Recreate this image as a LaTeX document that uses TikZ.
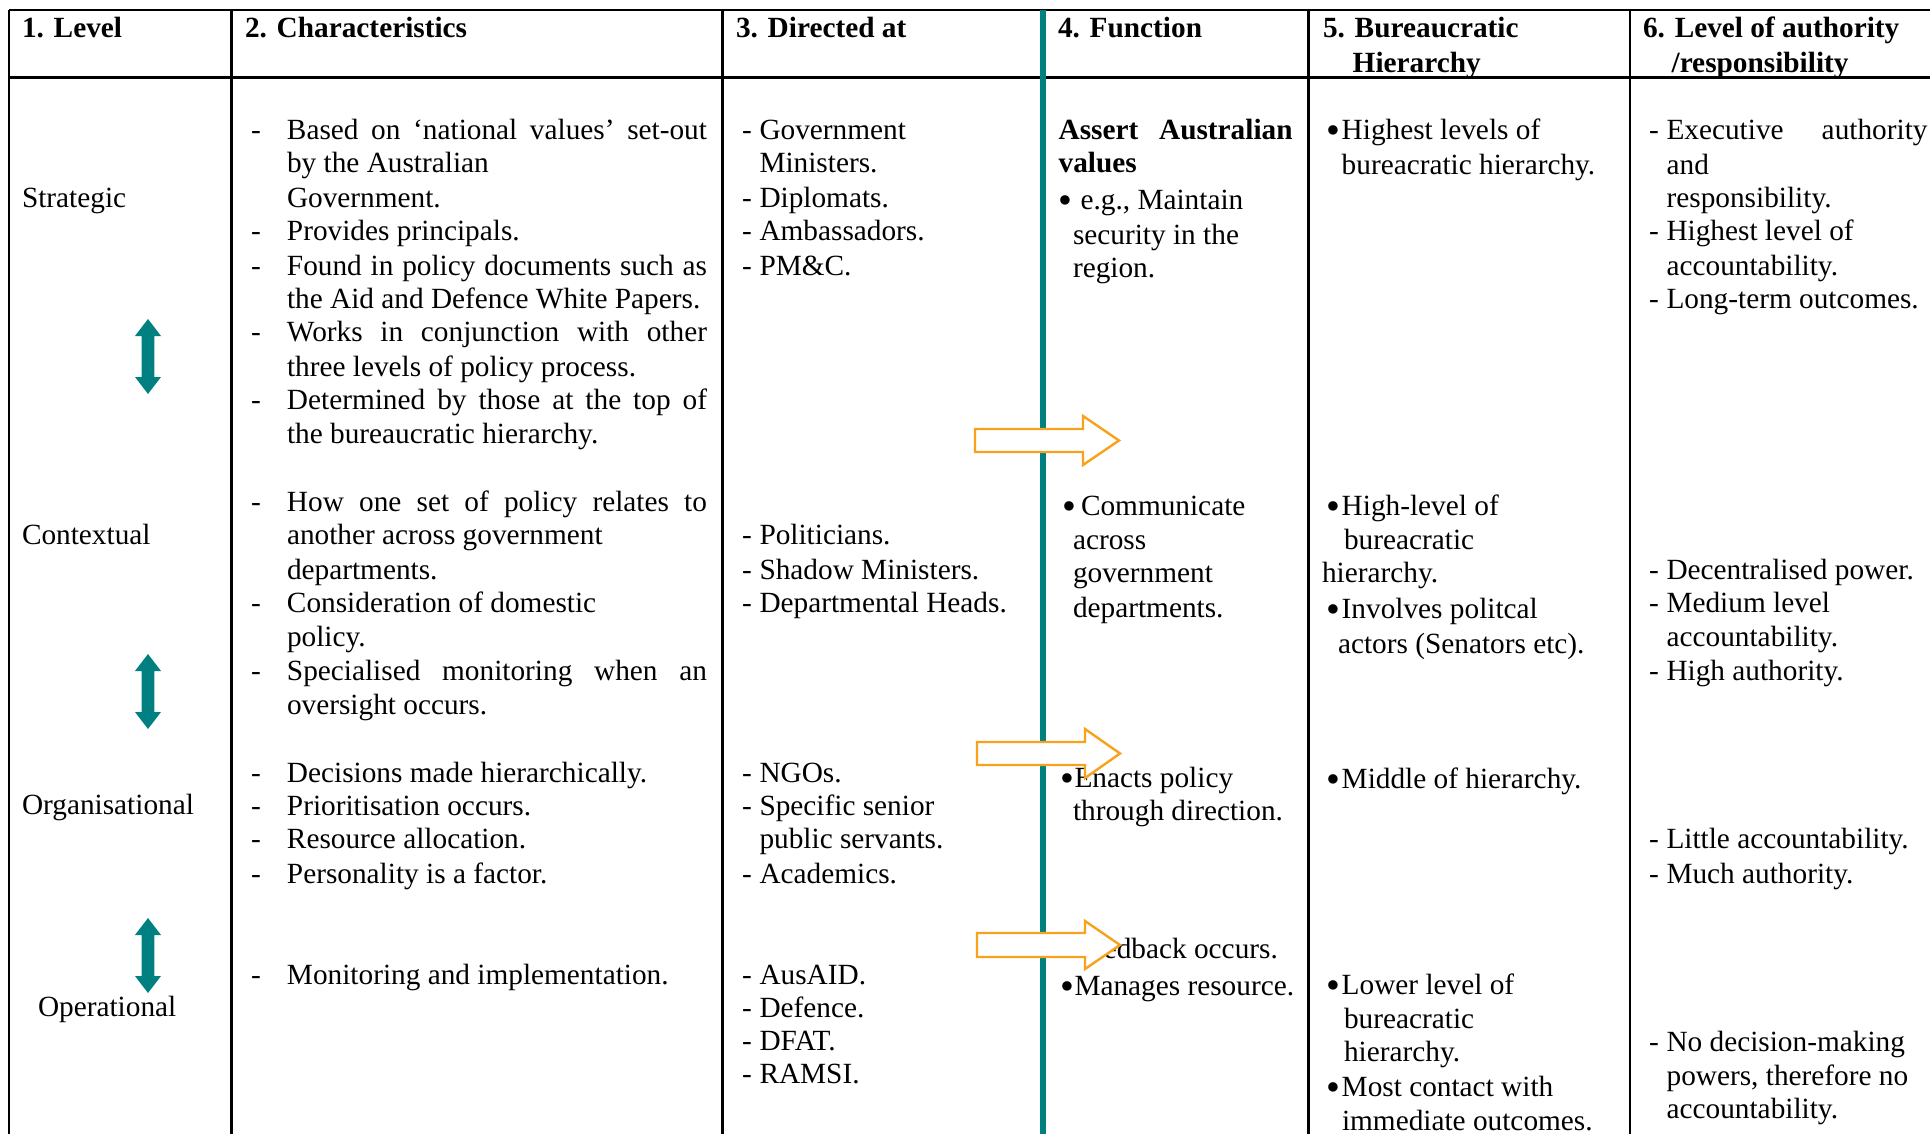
\documentclass[tikz,border=0pt]{standalone}
\usepackage{fontspec}
\usepackage{graphicx}
\setmainfont{Liberation Serif}
\definecolor{tealc}{RGB}{0,128,128}
\definecolor{orangec}{RGB}{248,162,28}
\newcommand\DshA{\makebox[36pt][l]{-}}
\newcommand\DshB{\makebox[17.5pt][l]{-}}
\newcommand\Blt[1]{\makebox[#1][l]{\raisebox{-4pt}{\scalebox{1.35}{•}}}}
\newcommand\Jst[2]{\makebox[#1][s]{#2}}
\tikzset{
  txt/.style={anchor=base west, inner sep=0pt, outer sep=0pt, font=\fontsize{29.3pt}{33.7pt}\selectfont},
  hdr/.style={anchor=base west, inner sep=0pt, outer sep=0pt, font=\fontsize{29.3pt}{33.7pt}\selectfont\bfseries},
  rule/.style={line width=2.2pt, black},
  tealrule/.style={line width=6pt, tealc},
  updown/.style={fill=tealc},
  flowarrow/.style={draw=orangec, fill=white, line width=2.4pt, line join=miter},
}
\begin{document}
\begin{tikzpicture}[x=1pt,y=-1pt]
\useasboundingbox (0,0) rectangle (1930,1134);
\fill[white] (0,0) rectangle (1930,1134);
% table rules
\draw[rule] (9,10) -- (1930,10);
\draw[rule] (9,77.5) -- (1930,77.5);
\foreach \x in {9,231.5,722.5,1308.5,1629.7} \draw[rule] (\x,10) -- (\x,1134);
\draw[tealrule] (1043,10) -- (1043,1134);
\begin{scope}[yshift=-2.5pt]
% headers
\node[hdr] (h1) at (22,35) {1. Level};
\node[hdr] (h2) at (245,35) {2. Characteristics};
\node[hdr] (h3) at (736,35) {3. Directed at};
\node[hdr] (h4) at (1058,35) {4. Function};
\node[hdr] (h5) at (1323,35) {5. Bureaucratic};
\node[hdr] (h5b) at (1352.7,69.6) {Hierarchy};
\node[hdr] (h6) at (1643,35) {6. Level of authority};
\node[hdr] (h6b) at (1671.6,69.6) {/responsibility};
% column 1
\node[txt] (l1) at (22,205) {Strategic};
\node[txt] (l2) at (22,542.2) {Contextual};
\node[txt] (l3) at (22,811.8) {Organisational};
\node[txt] (l4) at (38,1013.6) {Operational};
% column 2
\node[txt] (c2a) at (251,137.3) {\DshA\Jst{420pt}{Based on ‘national values’ set-out}};
\node[txt] (c2b) at (287,170.5) {by the Australian};
\node[txt] (c2c) at (287,205) {Government.};
\node[txt] (c2d) at (251,238.2) {\DshA Provides principals.};
\node[txt] (c2e) at (251,272.6) {\DshA\Jst{420pt}{Found in policy documents such as}};
\node[txt] (c2f) at (287,305.9) {the Aid and Defence White Papers.};
\node[txt] (c2g) at (251,339.1) {\DshA\Jst{420pt}{Works in conjunction with other}};
\node[txt] (c2h) at (287,373.6) {three levels of policy process.};
\node[txt] (c2i) at (251,406.8) {\DshA\Jst{420pt}{Determined by those at the top of}};
\node[txt] (c2j) at (287,441.3) {the bureaucratic hierarchy.};
\node[txt] (c2k) at (251,509) {\DshA\Jst{420pt}{How one set of policy relates to}};
\node[txt] (c2l) at (287,542.2) {another across government};
\node[txt] (c2m) at (287,576.7) {departments.};
\node[txt] (c2n) at (251,609.9) {\DshA Consideration of domestic};
\node[txt] (c2o) at (287,644.4) {policy.};
\node[txt] (c2p) at (251,677.6) {\DshA\Jst{420pt}{Specialised monitoring when an}};
\node[txt] (c2q) at (287,712.1) {oversight occurs.};
\node[txt] (c2r) at (251,779.8) {\DshA Decisions made hierarchically.};
\node[txt] (c2s) at (251,813) {\DshA Prioritisation occurs.};
\node[txt] (c2t) at (251,846.2) {\DshA Resource allocation.};
\node[txt] (c2u) at (251,880.7) {\DshA Personality is a factor.};
\node[txt] (c2v) at (251,981.6) {\DshA Monitoring and implementation.};
% column 3
\node[txt] (c3a) at (742,137.3) {\DshB Government};
\node[txt] (c3b) at (759.5,170.5) {Ministers.};
\node[txt] (c3c) at (742,205) {\DshB Diplomats.};
\node[txt] (c3d) at (742,238.2) {\DshB Ambassadors.};
\node[txt] (c3e) at (742,272.6) {\DshB PM\&C.};
\node[txt] (c3f) at (742,542.2) {\DshB Politicians.};
\node[txt] (c3g) at (742,576.7) {\DshB Shadow Ministers.};
\node[txt] (c3h) at (742,609.9) {\DshB Departmental Heads.};
\node[txt] (c3i) at (742,779.8) {\DshB NGOs.};
\node[txt] (c3j) at (742,813) {\DshB Specific senior};
\node[txt] (c3k) at (759.5,846.2) {public servants.};
\node[txt] (c3l) at (742,880.7) {\DshB Academics.};
\node[txt] (c3m) at (742,981.6) {\DshB AusAID.};
\node[txt] (c3n) at (742,1014.9) {\DshB Defence.};
\node[txt] (c3o) at (742,1048.1) {\DshB DFAT.};
\node[txt] (c3p) at (742,1081.3) {\DshB RAMSI.};
% column 4
\node[hdr] (c4a) at (1058.6,137.3) {\Jst{234pt}{\bfseries Assert Australian}};
\node[hdr] (c4b) at (1058.6,170.5) {values};
\node[txt] (c4c) at (1058.6,207.4) {\Blt{22pt}e.g., Maintain};
\node[txt] (c4d) at (1073,241.9) {security in the};
\node[txt] (c4e) at (1073,275.1) {region.};
\node[txt] (c4f) at (1062.5,512.7) {\Blt{18.5pt}Communicate};
\node[txt] (c4g) at (1073,547.1) {across};
\node[txt] (c4h) at (1073,580.4) {government};
\node[txt] (c4i) at (1073,614.8) {departments.};
\node[txt] (c4j) at (1060,784.7) {\Blt{14.5pt}Enacts policy};
\node[txt] (c4k) at (1073,818) {through direction.};
\node[txt] (c4l) at (1060,955.8) {\Blt{14.5pt}Feedback occurs.};
\node[txt] (c4m) at (1060,992.7) {\Blt{14.5pt}Manages resource.};
% column 5
\node[txt] (c5a) at (1326,137.3) {\Blt{15.7pt}Highest levels of};
\node[txt] (c5b) at (1341.7,171.8) {bureacratic hierarchy.};
\node[txt] (c5c) at (1326,512.7) {\Blt{15.7pt}High-level of};
\node[txt] (c5d) at (1344,547.1) {bureacratic};
\node[txt] (c5e) at (1322,580.4) {hierarchy.};
\node[txt] (c5f) at (1326,616.1) {\Blt{15.7pt}Involves politcal};
\node[txt] (c5g) at (1338,650.5) {actors (Senators etc).};
\node[txt] (c5h) at (1326,786) {\Blt{15.7pt}Middle of hierarchy.};
\node[txt] (c5i) at (1326,991.5) {\Blt{15.7pt}Lower level of};
\node[txt] (c5j) at (1344,1026) {bureacratic};
\node[txt] (c5k) at (1344,1059.2) {hierarchy.};
\node[txt] (c5l) at (1326,1093.6) {\Blt{15.7pt}Most contact with};
\node[txt] (c5m) at (1342,1128.1) {immediate outcomes.};
% column 6
\node[txt] (c6a) at (1649,137.3) {\DshB\Jst{261pt}{Executive authority}};
\node[txt] (c6b) at (1666.6,171.8) {and};
\node[txt] (c6c) at (1666.6,205) {responsibility.};
\node[txt] (c6d) at (1649,238.2) {\DshB Highest level of};
\node[txt] (c6e) at (1666.6,272.6) {accountability.};
\node[txt] (c6f) at (1649,305.9) {\DshB Long-term outcomes.};
\node[txt] (c6g) at (1649,576.7) {\DshB Decentralised power.};
\node[txt] (c6h) at (1649,609.9) {\DshB Medium level};
\node[txt] (c6i) at (1666.6,644.4) {accountability.};
\node[txt] (c6j) at (1649,677.6) {\DshB High authority.};
\node[txt] (c6k) at (1649,846.2) {\DshB Little accountability.};
\node[txt] (c6l) at (1649,880.7) {\DshB Much authority.};
\node[txt] (c6m) at (1649,1049.4) {\DshB No decision-making};
\node[txt] (c6n) at (1666.6,1082.6) {powers, therefore no};
\node[txt] (c6o) at (1666.6,1115.8) {accountability.};
\end{scope}
% teal double arrows
\foreach \T in {319,654,918}
  \fill[updown] (148,\T) -- (161,{\T+17}) -- (154.3,{\T+17}) -- (154.3,{\T+58}) -- (161,{\T+58}) -- (148,{\T+75}) -- (135,{\T+58}) -- (141.7,{\T+58}) -- (141.7,{\T+17}) -- (135,{\T+17}) -- cycle;
% orange block arrows
\draw[flowarrow] (975,429) -- (1083,429) -- (1083,416) -- (1119,440.5) -- (1083,465) -- (1083,452) -- (975,452) -- cycle;
\draw[flowarrow] (977,742) -- (1085,742) -- (1085,729) -- (1120,753.5) -- (1085,778) -- (1085,765) -- (977,765) -- cycle;
\draw[flowarrow] (977,933) -- (1085,933) -- (1085,921) -- (1120,945) -- (1085,969) -- (1085,957) -- (977,957) -- cycle;
\end{tikzpicture}
\end{document}
